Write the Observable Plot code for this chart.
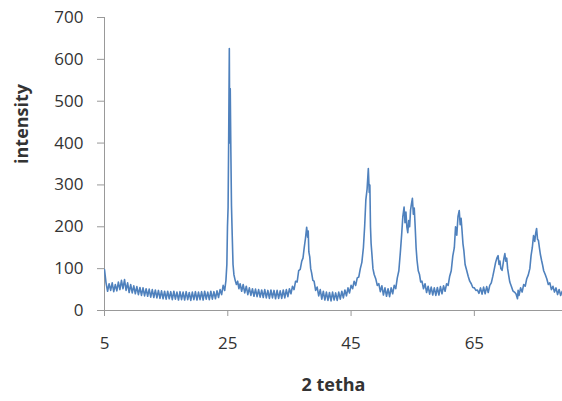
<!DOCTYPE html>
<html><head><meta charset="utf-8">
<script src="https://cdn.jsdelivr.net/npm/d3@7"></script>
<script src="https://cdn.jsdelivr.net/npm/@observablehq/plot@0.6"></script>
<style>body{margin:0;background:#fff;}</style>
</head><body><div id="chart"></div>
<script>
const twoTheta = [
 5.00,5.25,5.50,5.75,6.00,6.25,6.50,6.75,7.00,7.25,7.50,7.75,8.00,8.25,8.50,8.75,9.00,9.25,9.50,9.75,
 10.00,10.25,10.50,10.75,11.00,11.25,11.50,11.75,12.00,12.25,12.50,12.75,13.00,13.25,13.50,13.75,14.00,14.25,14.50,14.75,
 15.00,15.25,15.50,15.75,16.00,16.25,16.50,16.75,17.00,17.25,17.50,17.75,18.00,18.25,18.50,18.75,19.00,19.25,19.50,19.75,
 20.00,20.25,20.50,20.75,21.00,21.25,21.50,21.75,22.00,22.25,22.50,22.75,23.00,23.25,23.50,23.75,24.00,24.25,24.50,
 24.70,24.85,24.95,25.05,25.15,25.25,25.32,25.40,25.50,25.60,25.72,25.85,26.00,26.20,26.40,26.60,26.80,
 27.00,27.25,27.50,27.75,28.00,28.25,28.50,28.75,29.00,29.25,29.50,29.75,30.00,30.25,30.50,30.75,31.00,31.25,31.50,31.75,
 32.00,32.25,32.50,32.75,33.00,33.25,33.50,33.75,34.00,34.25,34.50,34.75,35.00,35.25,35.50,35.75,36.00,36.25,36.50,36.75,
 37.00,37.20,37.40,37.60,37.80,37.95,38.05,38.15,38.30,38.45,38.60,38.80,39.00,39.25,39.50,39.75,
 40.00,40.25,40.50,40.75,41.00,41.25,41.50,41.75,42.00,42.25,42.50,42.75,43.00,43.25,43.50,43.75,44.00,44.25,44.50,44.75,
 45.00,45.25,45.50,45.75,46.00,46.25,46.50,46.75,47.00,47.20,47.40,47.60,47.80,47.95,48.05,48.15,48.25,48.40,48.55,48.75,
 49.00,49.25,49.50,49.75,50.00,50.25,50.50,50.75,51.00,51.25,51.50,51.75,52.00,52.25,52.50,52.75,
 53.00,53.20,53.40,53.60,53.75,53.90,54.05,54.20,54.35,54.50,54.65,54.80,54.95,55.10,55.25,55.40,55.55,55.70,55.90,
 56.10,56.30,56.50,56.75,57.00,57.25,57.50,57.75,58.00,58.25,58.50,58.75,59.00,59.25,59.50,59.75,
 60.00,60.25,60.50,60.75,61.00,61.25,61.50,61.75,61.95,62.15,62.35,62.55,62.70,62.85,63.00,63.15,63.30,63.50,63.75,
 64.00,64.25,64.50,64.75,65.00,65.25,65.50,65.75,66.00,66.25,66.50,66.75,67.00,67.25,67.50,67.75,
 68.00,68.25,68.45,68.65,68.85,69.00,69.15,69.30,69.50,69.65,69.80,69.95,70.10,70.25,70.40,70.55,70.75,
 71.00,71.25,71.50,71.75,72.00,72.10,72.25,72.50,72.75,73.00,73.25,73.50,73.75,
 74.00,74.20,74.40,74.60,74.80,74.95,75.10,75.25,75.40,75.55,75.70,75.90,76.05,76.25,76.50,76.75,
 77.00,77.25,77.50,77.75,78.00,78.25,78.50,78.75,79.00,79.25,79.50
];
const intensity = [
 98,66,46,64,48,66,45,62,47,68,50,72,52,74,48,66,43,62,42,59,
 40,57,38,55,36,54,35,52,34,51,32,50,31,49,30,48,29,47,28,46,
 27,46,28,45,26,46,27,44,25,45,26,44,25,45,26,43,24,44,26,45,
 25,44,26,45,25,46,27,44,26,46,27,45,28,47,31,50,38,60,48,
 72,110,200,246,420,626,400,530,380,250,180,110,85,72,62,70,52,
 64,46,62,42,58,38,54,36,52,34,51,33,50,32,49,31,50,30,48,
 29,49,30,48,28,48,29,47,29,49,30,50,33,52,40,58,50,70,68,95,
 98,118,125,150,172,199,175,190,140,128,100,90,72,70,48,56,
 35,50,27,46,25,44,24,43,23,44,25,42,24,44,27,46,30,49,35,54,
 42,60,52,70,60,78,80,100,115,150,200,265,290,339,282,300,200,160,131,100,
 86,76,60,64,45,59,37,54,34,52,33,54,40,60,52,78,
 95,140,180,225,247,210,235,200,186,215,200,240,255,268,230,245,200,150,120,
 95,86,68,70,52,64,43,58,39,56,37,54,36,55,37,57,
 40,59,46,64,60,82,95,130,150,200,180,225,239,205,220,191,160,143,110,
 96,82,70,64,55,54,48,49,41,54,39,56,40,57,43,60,
 66,82,100,115,125,131,110,118,100,96,110,125,136,118,125,100,86,
 68,58,47,44,40,28,48,36,54,44,62,58,76,
 85,100,131,150,179,165,185,196,170,167,150,135,120,110,95,86,
 76,62,66,50,58,44,54,38,50,36,46
];
const xTicks = [5, 25, 45, 65];
const yTicks = [0, 100, 200, 300, 400, 500, 600, 700];
const xTitle = "2 tetha";
const yTitle = "intensity";

const data = twoTheta.map((t, i) => ({t, v: intensity[i]}));

const chart = Plot.plot({
  width: 562, height: 401,
  marginLeft: 104, marginRight: 0, marginTop: 17, marginBottom: 91,
  style: {fontFamily: "'Open Sans', sans-serif", fontSize: "17px", color: "#333", background: "#fff"},
  x: {domain: [5, 79.3]},
  y: {domain: [0, 700]},
  marks: [
    Plot.axisY({ticks: yTicks, tickSize: 7, tickPadding: 14, label: null, stroke: "#999", tickFormat: d => String(d)}),
    Plot.axisX({ticks: xTicks, tickSize: 6, tickPadding: 20, label: null, stroke: "#999", tickFormat: d => String(d)}),
    Plot.ruleX([5], {stroke: "#999"}),
    Plot.ruleY([0], {stroke: "#999"}),
    Plot.line(data, {x: "t", y: "v", stroke: "#4F81BD", strokeWidth: 1.6, clip: true}),
    Plot.text([xTitle], {text: d => d, frameAnchor: "bottom", dy: 80, fontWeight: "bold", fontSize: 18, fill: "#333"}),
    Plot.text([yTitle], {text: d => d, frameAnchor: "left", dx: -82, rotate: -90, fontWeight: "bold", fontSize: 18, fill: "#333"})
  ]
});
document.getElementById("chart").appendChild(chart);
</script>
</body></html>
